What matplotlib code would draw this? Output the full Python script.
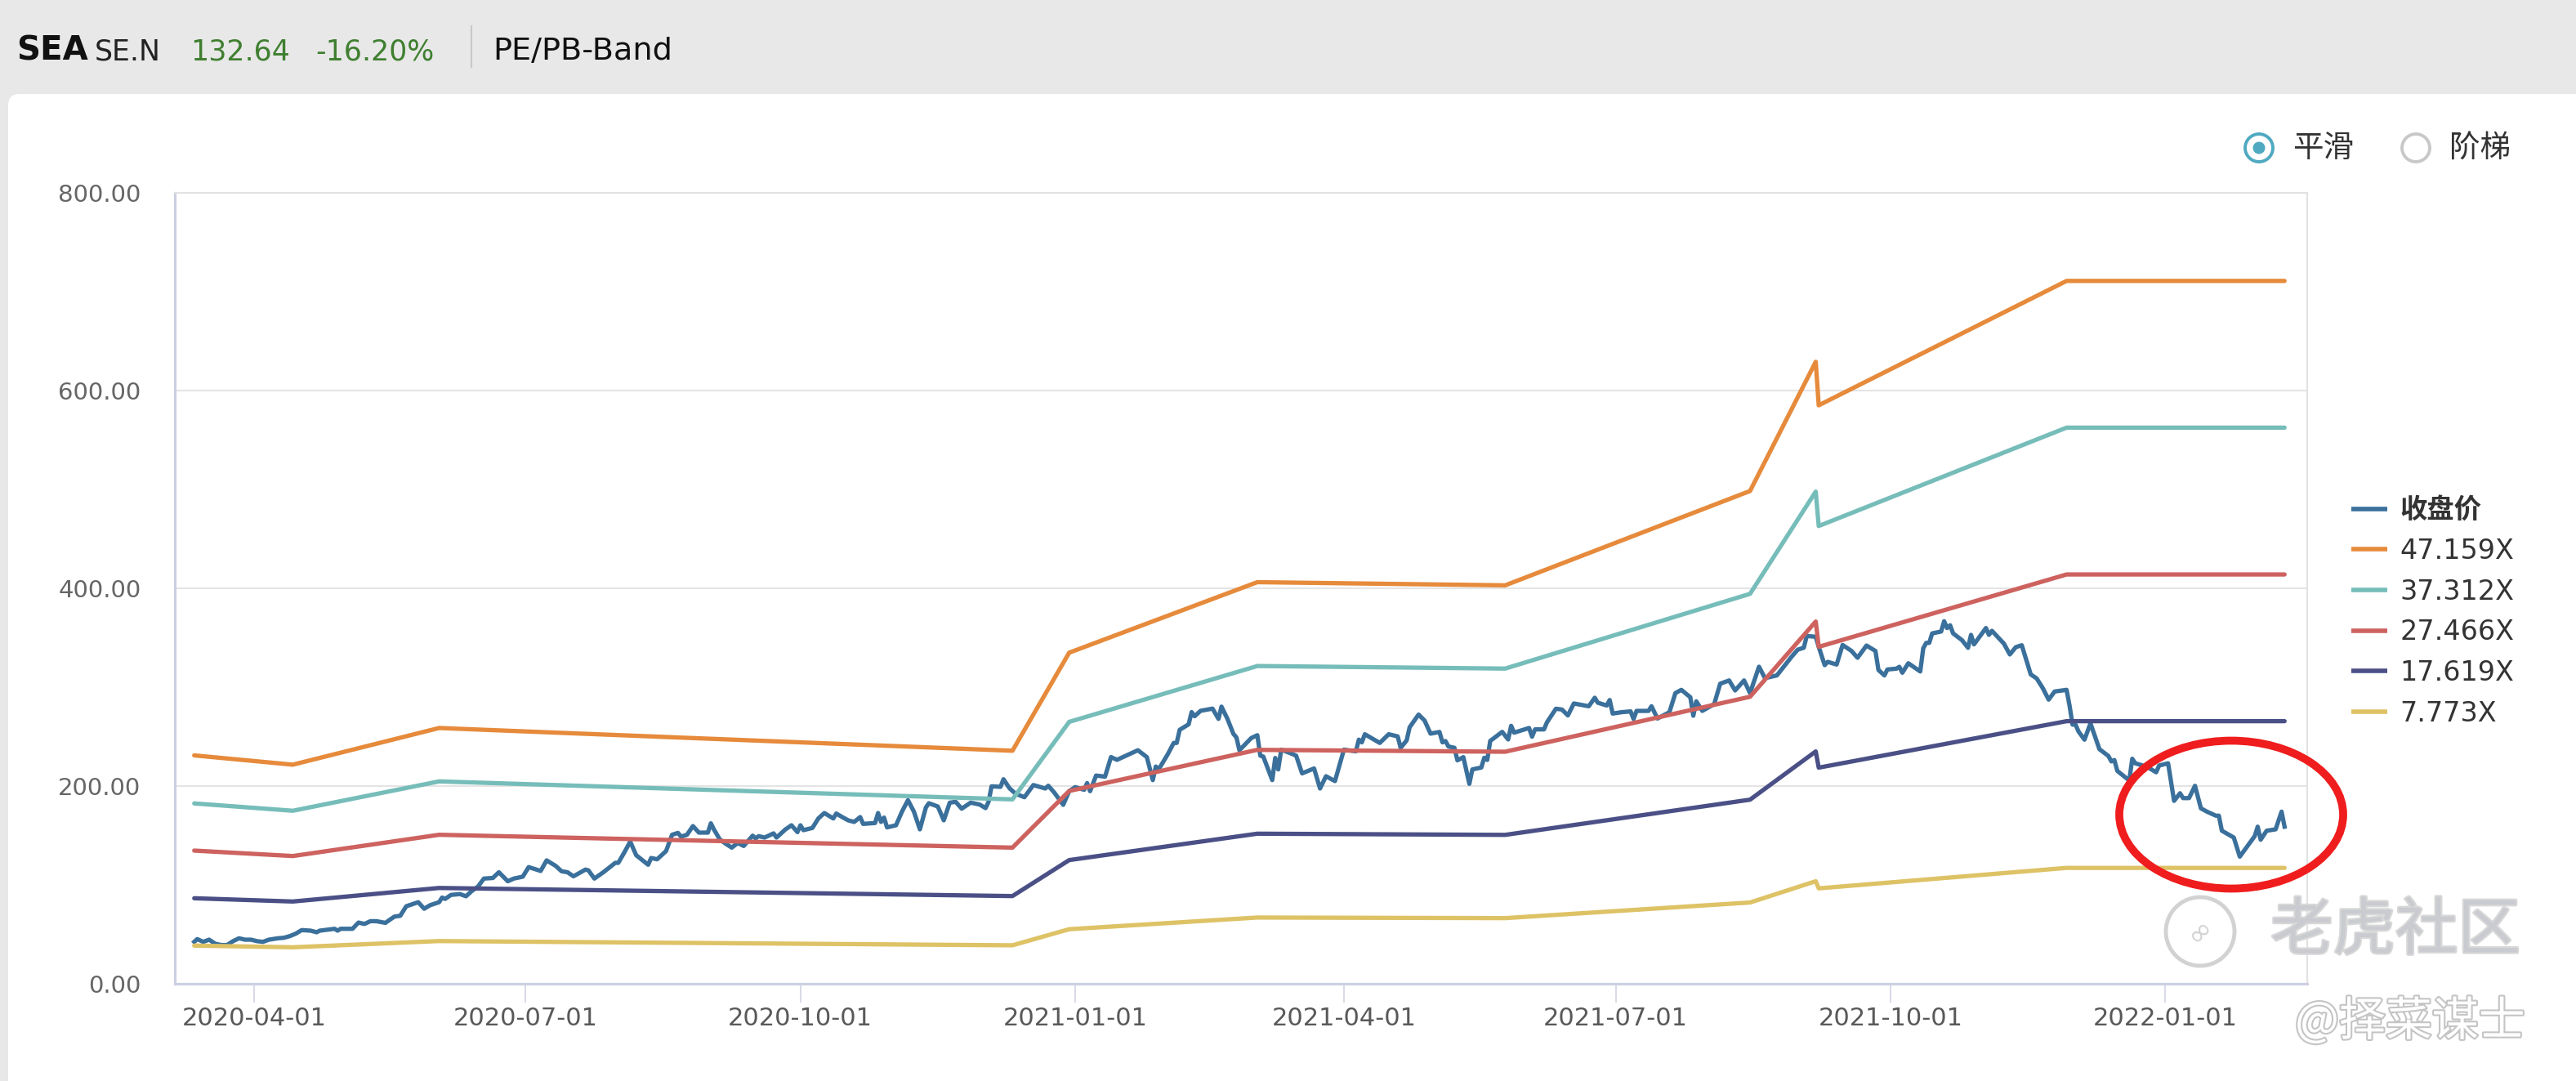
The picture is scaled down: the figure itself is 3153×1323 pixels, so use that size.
import matplotlib
matplotlib.use("Agg")
import matplotlib.pyplot as plt
import matplotlib.dates as mdates
import matplotlib.patheffects as pe
from matplotlib.patches import Ellipse, FancyBboxPatch
from matplotlib.lines import Line2D
from matplotlib.transforms import IdentityTransform
from matplotlib.ticker import FuncFormatter
import pandas as pd

plt.rcParams['font.family'] = ['DejaVu Sans', 'Noto Sans CJK SC']

# ---------------- data ----------------
price_dates = [
 "2020-03-12","2020-03-13","2020-03-15","2020-03-17","2020-03-19","2020-03-21","2020-03-23","2020-03-25",
 "2020-03-27","2020-03-29","2020-03-31","2020-04-02","2020-04-04","2020-04-06","2020-04-09","2020-04-11",
 "2020-04-13","2020-04-15","2020-04-17","2020-04-20","2020-04-22","2020-04-23","2020-04-28","2020-04-29",
 "2020-04-30","2020-05-04","2020-05-06","2020-05-08","2020-05-10","2020-05-12","2020-05-15","2020-05-18",
 "2020-05-20","2020-05-22","2020-05-26","2020-05-28","2020-05-30","2020-06-02","2020-06-03","2020-06-04",
 "2020-06-06","2020-06-09","2020-06-11","2020-06-13","2020-06-15","2020-06-17","2020-06-20","2020-06-22",
 "2020-06-25","2020-06-27","2020-06-30","2020-07-02","2020-07-06","2020-07-08","2020-07-11","2020-07-13",
 "2020-07-15","2020-07-17","2020-07-21","2020-07-22","2020-07-24","2020-07-27","2020-07-29","2020-07-31",
 "2020-08-01","2020-08-03","2020-08-05","2020-08-07","2020-08-11","2020-08-12","2020-08-14","2020-08-17",
 "2020-08-19","2020-08-21","2020-08-22","2020-08-24","2020-08-26","2020-08-28","2020-08-31","2020-09-01",
 "2020-09-02","2020-09-04","2020-09-06","2020-09-08","2020-09-10","2020-09-12","2020-09-15","2020-09-16",
 "2020-09-17","2020-09-19","2020-09-22","2020-09-23","2020-09-26","2020-09-28","2020-09-30","2020-10-01",
 "2020-10-02","2020-10-05","2020-10-07","2020-10-09","2020-10-12","2020-10-13","2020-10-15","2020-10-17",
 "2020-10-19","2020-10-21","2020-10-22","2020-10-26","2020-10-27","2020-10-28","2020-10-29","2020-10-30",
 "2020-11-02","2020-11-04","2020-11-06","2020-11-08","2020-11-10","2020-11-12","2020-11-13","2020-11-16",
 "2020-11-18","2020-11-20","2020-11-22","2020-11-24","2020-11-27","2020-11-30","2020-12-02","2020-12-03",
 "2020-12-04","2020-12-07","2020-12-08","2020-12-10","2020-12-12","2020-12-15","2020-12-17","2020-12-18",
 "2020-12-22","2020-12-23","2020-12-25","2020-12-28","2020-12-30","2021-01-01","2021-01-04","2021-01-05",
 "2021-01-06","2021-01-08","2021-01-11","2021-01-13","2021-01-15","2021-01-22","2021-01-25","2021-01-27",
 "2021-01-28","2021-01-29","2021-02-01","2021-02-03","2021-02-04","2021-02-05","2021-02-08","2021-02-09",
 "2021-02-10","2021-02-12","2021-02-16","2021-02-18","2021-02-19","2021-02-21","2021-02-23","2021-02-24",
 "2021-02-25","2021-03-01","2021-03-03","2021-03-04","2021-03-05","2021-03-08","2021-03-09","2021-03-10",
 "2021-03-11","2021-03-14","2021-03-16","2021-03-18","2021-03-22","2021-03-24","2021-03-26","2021-03-29",
 "2021-04-01","2021-04-05","2021-04-06","2021-04-07","2021-04-08","2021-04-13","2021-04-16","2021-04-19",
 "2021-04-20","2021-04-22","2021-04-23","2021-04-26","2021-04-28","2021-04-30","2021-05-03","2021-05-04",
 "2021-05-05","2021-05-06","2021-05-08","2021-05-09","2021-05-11","2021-05-13","2021-05-14","2021-05-17",
 "2021-05-18","2021-05-19","2021-05-20","2021-05-21","2021-05-24","2021-05-26","2021-05-27","2021-05-28",
 "2021-06-02","2021-06-03","2021-06-04","2021-06-07","2021-06-08","2021-06-11","2021-06-13","2021-06-15",
 "2021-06-17","2021-06-22","2021-06-24","2021-06-25","2021-06-28","2021-06-29","2021-06-30","2021-07-03",
 "2021-07-06","2021-07-07","2021-07-08","2021-07-12","2021-07-13","2021-07-15","2021-07-19","2021-07-21",
 "2021-07-23","2021-07-26","2021-07-27","2021-07-28","2021-07-30","2021-08-03","2021-08-05","2021-08-08",
 "2021-08-10","2021-08-13","2021-08-15","2021-08-18","2021-08-20","2021-08-24","2021-08-26","2021-08-29",
 "2021-08-31","2021-09-02","2021-09-03","2021-09-06","2021-09-07","2021-09-09","2021-09-10","2021-09-13",
 "2021-09-15","2021-09-18","2021-09-20","2021-09-23","2021-09-26","2021-09-27","2021-09-29","2021-09-30",
 "2021-10-03","2021-10-04","2021-10-05","2021-10-07","2021-10-11","2021-10-12","2021-10-13","2021-10-14",
 "2021-10-15","2021-10-18","2021-10-19","2021-10-20","2021-10-21","2021-10-22","2021-10-25","2021-10-27",
 "2021-10-28","2021-10-29","2021-11-02","2021-11-03","2021-11-04","2021-11-08","2021-11-10","2021-11-12",
 "2021-11-14","2021-11-17","2021-11-19","2021-11-21","2021-11-23","2021-11-25","2021-11-29","2021-11-30",
 "2021-12-01","2021-12-02","2021-12-03","2021-12-05","2021-12-07","2021-12-10","2021-12-13","2021-12-14",
 "2021-12-15","2021-12-16","2021-12-20","2021-12-21","2021-12-22","2021-12-26","2021-12-29","2021-12-30",
 "2022-01-02","2022-01-04","2022-01-06","2022-01-07","2022-01-09","2022-01-11","2022-01-13","2022-01-15",
 "2022-01-18","2022-01-19","2022-01-20","2022-01-24","2022-01-26","2022-01-28","2022-01-31","2022-02-01",
 "2022-02-02","2022-02-04","2022-02-07","2022-02-09","2022-02-10",
]
price_close = [
 42.4,45.2,42.4,44.6,40.5,39.2,39.2,43.1,
 46.0,44.6,44.6,43.1,42.4,44.6,46.0,46.5,
 48.2,50.7,54.3,53.7,52.1,53.7,55.6,53.7,
 55.6,55.6,61.9,60.5,63.3,63.3,61.6,67.9,
 68.8,78.4,82.5,75.9,79.5,82.5,87.2,85.8,
 89.9,90.7,88.5,94.0,98.2,106.4,107.0,112.8,
 103.7,106.4,108.3,118.0,114.1,124.8,119.3,113.8,
 112.8,108.7,115.5,114.7,106.4,112.8,117.5,122.3,
 122.3,132.7,143.8,130.0,120.4,127.2,125.9,134.2,
 150.7,152.6,148.8,150.7,159.5,152.9,152.9,162.3,
 156.2,146.0,141.6,137.7,142.4,139.4,149.8,147.1,
 149.3,147.9,152.1,147.9,156.2,160.3,153.4,160.3,
 155.4,157.6,167.2,172.7,167.2,172.2,168.6,165.3,
 163.7,168.6,161.7,162.6,172.7,163.7,168.1,158.2,
 160.3,174.1,185.7,174.1,156.2,178.2,182.6,179.3,
 165.3,183.2,184.0,177.1,183.2,181.3,177.7,184.0,
 199.7,199.2,206.9,197.8,192.3,188.7,197.0,201.0,
 197.5,200.3,193.4,181.0,194.8,198.9,196.2,203.0,
 194.8,210.6,209.5,229.3,226.5,236.2,229.3,206.0,
 219.7,217.0,232.1,243.6,243.6,256.9,262.4,274.8,
 270.6,276.1,278.3,267.9,280.3,267.9,252.7,249.2,
 236.2,248.6,251.4,230.7,229.8,206.0,228.4,216.8,
 236.8,233.3,230.7,212.8,217.8,197.5,209.9,205.0,
 236.8,235.1,246.9,244.2,252.4,243.6,252.4,250.2,
 238.7,246.1,259.4,272.3,266.3,253.0,254.7,244.2,
 245.5,240.0,238.7,226.0,229.2,202.2,216.8,218.7,
 228.6,226.4,245.7,247.9,254.8,247.1,260.9,254.0,
 258.7,249.9,257.3,257.3,264.5,278.2,277.4,271.4,
 283.5,280.7,289.3,284.3,281.5,287.0,273.3,274.7,
 275.5,267.8,276.0,276.0,280.7,268.3,274.7,294.0,
 297.3,289.8,271.1,285.7,276.0,282.9,303.5,306.8,
 296.7,306.8,294.0,320.7,309.1,311.9,319.6,331.1,
 338.0,339.9,351.8,351.0,340.8,322.3,325.6,322.9,
 342.7,336.6,329.7,342.1,336.6,317.4,311.9,317.9,
 318.7,320.6,314.6,324.2,315.9,339.3,344.8,344.8,
 354.4,356.3,366.7,359.8,362.6,354.4,347.5,339.8,
 352.9,343.3,359.8,352.9,357.0,344.1,333.1,340.5,
 342.4,312.9,308.8,299.2,287.4,295.6,297.3,281.3,
 262.1,262.1,255.2,246.9,263.4,237.3,230.4,224.9,
 226.3,215.3,205.6,227.6,223.0,219.4,213.9,220.8,
 223.0,185.0,192.7,187.8,187.8,200.2,177.4,174.1,
 170.0,170.0,154.8,147.9,128.6,136.9,149.3,158.9,
 145.7,154.8,156.2,174.1,158.9,
]

band_dates = ["2020-03-12","2020-04-14","2020-06-02","2020-12-11","2020-12-30","2021-03-03",
              "2021-05-25","2021-08-15","2021-09-06","2021-09-07","2021-11-29","2022-02-10"]
band_47159 = [231.0, 221.6, 258.7, 235.7, 334.9, 406.2, 403.0, 498.4, 629.1, 585.1, 710.9, 710.9]
band_37312 = [182.4, 175.0, 204.7, 186.5, 264.9, 321.4, 318.8, 394.4, 497.8, 463.0, 562.5, 562.5]
band_27466 = [134.7, 129.2, 150.7, 137.7, 195.0, 236.6, 234.7, 290.3, 366.4, 340.8, 414.0, 414.0]
band_17619 = [86.5, 83.2, 96.9, 88.7, 125.1, 151.8, 150.6, 186.2, 235.0, 218.6, 265.6, 265.6]
band_7773 = [38.6, 36.9, 43.2, 38.9, 55.2, 67.0, 66.4, 82.2, 103.7, 96.5, 117.2, 117.2]

series_labels = ["收盘价", "47.159X", "37.312X", "27.466X", "17.619X", "7.773X"]
series_colors = ["#3a709b", "#e68a3b", "#76bdba", "#cd625f", "#4a5086", "#dec266"]

x_tick_dates = ["2020-04-01", "2020-07-01", "2020-10-01", "2021-01-01",
                "2021-04-01", "2021-07-01", "2021-10-01", "2022-01-01"]
y_ticks = [0, 200, 400, 600, 800]

# ---------------- figure ----------------
W, H = 3153, 1323
fig = plt.figure(figsize=(W / 100, H / 100), dpi=100)
fig.patch.set_facecolor("#e8e8e8")

panel = FancyBboxPatch((10, -30), 3300, 1238, boxstyle="round,pad=0,rounding_size=14",
                       transform=IdentityTransform(), facecolor="white", edgecolor="none", zorder=-10)
fig.add_artist(panel)

ax = fig.add_axes([214 / W, 1 - 1204 / H, (2824 - 214) / W, (1204 - 236) / H])
ax.set_facecolor("white")

pd_price_dates = pd.to_datetime(price_dates)
pd_band_dates = pd.to_datetime(band_dates)
lw = 3.8
ax.plot(pd_price_dates, price_close, color=series_colors[0], lw=lw, label=series_labels[0],
        solid_joinstyle="round", zorder=3)
for vals, lab, col in zip([band_47159, band_37312, band_27466, band_17619, band_7773],
                          series_labels[1:], series_colors[1:]):
    ax.plot(pd_band_dates, vals, color=col, lw=lw, label=lab, solid_capstyle="round",
            solid_joinstyle="round", zorder=4)

ax.set_ylim(0, 800)
ax.set_yticks(y_ticks)
ax.yaxis.set_major_formatter(FuncFormatter(lambda v, p: f"{v:.2f}"))
ax.set_xlim(pd.Timestamp("2020-03-05 12:00"), pd.Timestamp("2022-02-17 14:00"))
ax.set_xticks(pd.to_datetime(x_tick_dates))
ax.xaxis.set_major_formatter(mdates.DateFormatter("%Y-%m-%d"))

ax.yaxis.grid(True, color="#e4e4e4", lw=1.5, zorder=0)
ax.set_axisbelow(True)
for s in ["left", "bottom"]:
    ax.spines[s].set_color("#cdd0e2")
    ax.spines[s].set_linewidth(2.3)
for s in ["top", "right"]:
    ax.spines[s].set_color("#e2e2e2")
    ax.spines[s].set_linewidth(1.5)

ax.tick_params(axis="y", length=0, pad=30, labelsize=21, labelcolor="#666666")
ax.tick_params(axis="x", length=16.5, width=1.1, color="#cdd0e2", pad=4,
               labelsize=22, labelcolor="#595959")

leg = ax.legend(loc="center left", bbox_to_anchor=(2878 / W, 1 - 749 / H),
                bbox_transform=fig.transFigure, frameon=False, fontsize=24,
                handlelength=1.32, handletextpad=0.45, labelspacing=0.5,
                borderpad=0, borderaxespad=0)
for t in leg.get_texts():
    t.set_color("#333333")
leg.get_texts()[0].set_fontweight("bold")
for h in leg.get_lines():
    h.set_linewidth(4.0)
    h.set_solid_capstyle("butt")

# ---------------- header ----------------
yb = 1 - 73 / H
fig.text(20 / W, yb, "SEA", fontsize=29, fontweight="bold", color="#111111", va="baseline")
fig.text(116 / W, yb, "SE.N", fontsize=25, color="#222222", va="baseline")
fig.text(233 / W, yb, "132.64", fontsize=25, color="#3f7f30", va="baseline")
fig.text(386 / W, yb, "-16.20%", fontsize=25, color="#3f7f30", va="baseline")
fig.add_artist(Line2D([577 / W, 577 / W], [1 - 32 / H, 1 - 82 / H], transform=fig.transFigure,
                      color="#c8c8c8", lw=1.5))
fig.text(603 / W, yb, "PE/PB-Band", fontsize=27.5, color="#111111", va="baseline")

# radio buttons
ry = 1 - 181 / H
fig.add_artist(Ellipse((2765 / W, ry), 34 / W, 34 / H, transform=fig.transFigure,
                       facecolor="none", edgecolor="#4fa9c1", lw=2.8))
fig.add_artist(Ellipse((2765 / W, ry), 15 / W, 15 / H, transform=fig.transFigure,
                       facecolor="#4fa9c1", edgecolor="none"))
fig.text(2806 / W, ry, "平滑", fontsize=27, color="#333333", va="center", ha="left",
         family=["Noto Sans CJK SC"])
fig.add_artist(Ellipse((2957 / W, ry), 34 / W, 34 / H, transform=fig.transFigure,
                       facecolor="none", edgecolor="#c8c8c8", lw=2.8))
fig.text(2998 / W, ry, "阶梯", fontsize=27, color="#333333", va="center", ha="left",
         family=["Noto Sans CJK SC"])

# red annotation ellipse
fig.add_artist(Ellipse((2731 / W, 1 - 997 / H), 274 / W, 181 / H, transform=fig.transFigure,
                       facecolor="none", edgecolor="#ef1d1d", lw=7, zorder=20))

# watermarks
fig.add_artist(Ellipse((2693 / W, 1 - 1140 / H), 84 / W, 84 / H, transform=fig.transFigure,
                       facecolor="none", edgecolor="#d2d2d2", lw=3.5, zorder=15))
fig.text(2693 / W, 1 - 1140 / H, "∞", fontsize=26, color="#d2d2d2", ha="center", va="center",
         rotation=45, zorder=15)
fig.text(2932 / W, 1 - 1140 / H, "老虎社区", fontsize=55, color="#c9cbd0", ha="center", va="center",
         family=["Noto Sans CJK SC"], zorder=15,
         path_effects=[pe.withStroke(linewidth=3, foreground="#d8d8d8")])
fig.text(2950 / W, 1 - 1251 / H, "@择菜谋士", fontsize=41, color="white", ha="center", va="center",
         family=["Noto Sans CJK SC", "DejaVu Sans"], zorder=15,
         path_effects=[pe.withStroke(linewidth=3, foreground="#c4c4c4")])

fig.savefig("out.png", dpi=100, facecolor=fig.get_facecolor())
